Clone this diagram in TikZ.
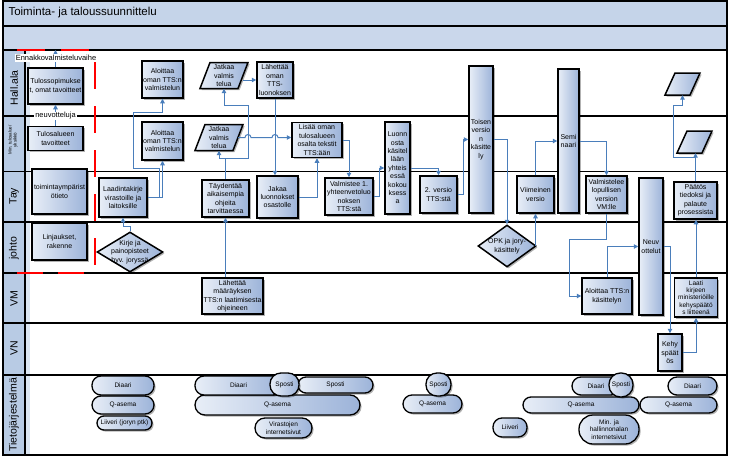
\documentclass[tikz,border=0pt]{standalone}
\usepackage{fontspec}
\setmainfont{Liberation Sans}
\usetikzlibrary{shapes.geometric,shadows,arrows.meta,calc}
\definecolor{hdr}{HTML}{C5D4E9}
\definecolor{lanec}{HTML}{B8CBE4}
\definecolor{stripc}{HTML}{DCE6F2}
\definecolor{bxl}{HTML}{E8EEF7}
\definecolor{bxr}{HTML}{9CB3D9}
\definecolor{arr}{HTML}{4A7EBB}
\definecolor{dred}{HTML}{FF0000}
\begin{document}
\begin{tikzpicture}[x=1pt,y=-1pt,
  bxshade/.style={left color=bxl, right color=bxr},
  shd/.style={drop shadow={shadow xshift=1.6pt, shadow yshift=-1.6pt, opacity=0.3, fill=black}},
  box/.style={rectangle, draw=black, line width=1.5pt, bxshade, shd, align=center, inner sep=0.5pt, font=\fontsize{7}{8.4}\selectfont},
  dia/.style={diamond, draw=black, line width=1.5pt, bxshade, shd, inner sep=0pt},
  pshape/.style={draw=black, line width=1.5pt, bxshade, shd, line join=miter},
  anch/.style={rectangle, inner sep=0pt, align=center, font=\fontsize{7}{8.4}\selectfont},
  pill/.style={rectangle, draw=black, line width=1.3pt, bxshade, shd, rounded corners=#1, align=center, inner sep=0pt, font=\fontsize{6.5}{7.4}\selectfont},
  pill/.default=8pt,
  conn/.style={draw=arr, line width=1pt, -{Triangle[length=4.5pt,width=4.5pt]}},
  lane/.style={draw=black, line width=1.4pt},
  lanelbl/.style={rotate=90, font=\fontsize{10.5}{12}\selectfont},
  reddash/.style={draw=dred, line width=2pt, dash pattern=on 27pt off 17pt},
  note/.style={fill=white, inner sep=0.8pt, font=\fontsize{7.5}{9}\selectfont}
]
\useasboundingbox (0,0) rectangle (729,461);

% ---------- frame and lanes ----------
\fill[hdr] (3,1) rectangle (727,26);
\fill[hdr!92!white] (3,26) rectangle (727,50);
\fill[lanec] (3,50) rectangle (25,455);
\fill[stripc] (25,50) rectangle (30,455);
\draw[lane] (3,26) -- (727,26);
\foreach \yy in {50,116,171.5,222,273,323,375} \draw[lane] (3,\yy) -- (727,\yy);
\draw[lane] (25,50) -- (25,455);
\draw[line width=1.4pt] (3,1) rectangle (727,455);

\node[anchor=west, font=\fontsize{11.5}{13}\selectfont] (title) at (5,13) {Toiminta- ja taloussuunnittelu};

\node[lanelbl] (lHall) at (14,88) {Hall.ala};
\node[rotate=90, align=center, font=\fontsize{4.5}{5}\selectfont] (lMin) at (13,140) {Min. tulosalue/\\yksikkö};
\node[lanelbl] (lTay) at (14,196) {Tay};
\node[lanelbl] (lJohto) at (14,248) {johto};
\node[lanelbl] (lVM) at (14,299) {VM};
\node[lanelbl] (lVN) at (14,348) {VN};
\node[lanelbl] (lTieto) at (14,415) {Tietojärjestelmä};

% ---------- red dashed phase border ----------
\draw[reddash, dash pattern=on 28pt off 16pt] (17,49.5) -- (95,49.5);
\draw[reddash, dash pattern=on 26pt off 15pt] (17,273) -- (95,273);
\draw[reddash] (95,62) -- (95,267);

% ---------- Hall.ala ----------
\node[box, minimum width=55pt, minimum height=36pt] (ts) at (55.5,86) {Tulossopimukse\\t, omat tavoitteet};
\node[box, minimum width=41pt, minimum height=37pt] (al1) at (162.5,79.5) {Aloittaa\\oman TTS:n\\valmistelun};
\node[anch, minimum width=38pt, minimum height=26pt] (jv1) at (224,75.5) {};
\path[pshape] (200,88.5) -- (238,88.5) -- (248,62.5) -- (210,62.5) -- cycle;
\node[anch] (jv1T) at (jv1) {Jatkaa\\valmis\\telua};
\node[box, minimum width=36pt, minimum height=36pt] (lo) at (275,80) {Lähettää\\oman\\TTS-\\luonoksen};
\node[box, minimum width=24pt, minimum height=147pt] (tv) at (481,139.5) {Toisen\\versio\\n\\käsitte\\ly};
\node[box, minimum width=21pt, minimum height=144pt] (sem) at (568.5,141) {Semi\\naari};
\node[anch, minimum width=25pt, minimum height=22pt] (p1) at (682.5,84) {};
\path[pshape] (665,95) -- (690,95) -- (700,73) -- (675,73) -- cycle;

% ---------- Min. tulosalue ----------
\node[box, minimum width=55pt, minimum height=24pt] (tt) at (55.5,138.5) {Tulosalueen\\tavoitteet};
\node[box, minimum width=41pt, minimum height=38pt] (al2) at (162.5,141) {Aloittaa\\oman TTS:n\\valmistelun};
\node[anch, minimum width=38pt, minimum height=26pt] (jv2) at (219,137.5) {};
\path[pshape] (195,150.5) -- (233,150.5) -- (243,124.5) -- (205,124.5) -- cycle;
\node[anch] (jv2T) at (jv2) {Jatkaa\\valmis\\telua};
\node[box, minimum width=50pt, minimum height=35pt] (li) at (317,140) {Lisää oman\\tulosalueen\\osalta tekstit\\TTS:ään};
\node[box, minimum width=25pt, minimum height=92pt] (lu) at (397.5,168) {Luonn\\osta\\käsitel\\lään\\yhteis\\essä\\kokou\\ksess\\a};
\node[anch, minimum width=25pt, minimum height=22pt] (p2) at (694.5,142) {};
\path[pshape] (677,153) -- (702,153) -- (712,131) -- (687,131) -- cycle;

% ---------- Tay ----------
\node[box, minimum width=55pt, minimum height=45pt] (ty) at (59.5,191.5) {toimintaympärist\\ötieto};
\node[box, minimum width=48pt, minimum height=39pt] (lk) at (123,197.5) {Laadintakirje\\virastoille ja\\laitoksille};
\node[box, minimum width=47pt, minimum height=37pt] (td) at (225.5,198.5) {Täydentää\\aikaisempia\\ohjeita\\tarvittaessa};
\node[box, minimum width=41pt, minimum height=42pt] (ja) at (277.5,197) {Jakaa\\luonnokset\\osastolle};
\node[box, minimum width=48pt, minimum height=37pt] (va) at (349,196.5) {Valmistee 1.\\yhteenvetoluo\\noksen\\TTS:stä};
\node[box, minimum width=37pt, minimum height=37pt] (v2) at (438.5,194.5) {2. versio\\TTS:stä};
\node[box, minimum width=37pt, minimum height=37pt] (vi) at (535.5,194.5) {Viimeinen\\versio};
\node[box, minimum width=41pt, minimum height=37pt] (vl) at (606.5,194.5) {Valmistelee\\lopullisen\\version\\VM:lle};
\node[box, minimum width=24pt, minimum height=137pt] (ne) at (651,246.5) {Neuv\\ottelut};
\node[box, minimum width=43pt, minimum height=37pt] (pt) at (695.5,200.5) {Päätös\\tiedoksi ja\\palaute\\prosessista};

% ---------- johto ----------
\node[box, minimum width=55pt, minimum height=37pt] (lr) at (59.5,241.5) {Linjaukset,\\rakenne};
\node[dia, minimum width=66pt, minimum height=40pt] (kd) at (130,252) {};
\node[anch] (kdT) at (kd) {Kirje ja\\painopisteet\\hyv. joryssä};
\node[dia, minimum width=58pt, minimum height=42pt] (od) at (507,246) {};
\node[anch] (odT) at (od) {OPK ja jory-\\käsittely};

% ---------- VM ----------
\node[box, minimum width=61pt, minimum height=36pt] (lm) at (232.5,296) {Lähettää\\määräyksen\\TTS:n laatimisesta\\ohjeineen};
\node[box, minimum width=50pt, minimum height=36pt] (atk) at (607,296) {Aloittaa TTS:n\\käsittelyn};
\node[box, minimum width=43pt, minimum height=39pt, font=\fontsize{6.5}{7.3}\selectfont] (lt) at (696,297.5) {Laati\\kirjeen\\ministeriöille\\kehyspäätö\\s liitteenä};

% ---------- VN ----------
\node[box, minimum width=24pt, minimum height=37pt] (kp) at (670,352.5) {Kehy\\späät\\ös};

% ---------- Tietojärjestelmä ----------
\node[pill=9pt, minimum width=62pt, minimum height=18pt] (q1) at (123,405) {Q-asema};
\node[pill=9pt, minimum width=62pt, minimum height=19pt] (d1) at (123,385.5) {Diaari};
\node[pill=7pt, minimum width=55pt, minimum height=14pt] (l1) at (124.5,423) {Liiveri (joryn ptk)};

\node[pill=10pt, minimum width=165pt, minimum height=20pt] (q2) at (277.5,405) {Q-asema};
\node[pill=9pt, minimum width=87pt, minimum height=19pt] (d2) at (238.5,385.5) {Diaari};
\node[pill=8pt, minimum width=75pt, minimum height=16pt] (s3) at (335.5,385) {Sposti};
\node[pill=11pt, minimum width=29pt, minimum height=23pt] (s2) at (284.5,384.5) {Sposti};
\node[pill=10pt, minimum width=57pt, minimum height=20pt] (vs) at (283.5,428) {Virastojen\\internetsivut};

\node[pill=9pt, minimum width=59pt, minimum height=18pt] (q3) at (432.5,404) {Q-asema};
\node[pill=11pt, minimum width=25pt, minimum height=23pt] (s4) at (438.5,384.5) {Sposti};
\node[pill=9pt, minimum width=34pt, minimum height=19pt] (l2) at (510,427.5) {Liiveri};

\node[pill=8pt, minimum width=116pt, minimum height=16pt] (q4) at (581,405) {Q-asema};
\node[pill=9pt, minimum width=48pt, minimum height=18pt] (d4) at (596,386) {Diaari};
\node[pill=11.5pt, minimum width=24pt, minimum height=24pt] (s5) at (621,385) {Sposti};
\node[pill=14pt, minimum width=60pt, minimum height=29pt] (mi) at (609,429.5) {Min. ja\\hallinnonalan\\internetsivut};

\node[pill=8pt, minimum width=77pt, minimum height=16pt] (q5) at (678.5,405) {Q-asema};
\node[pill=9pt, minimum width=49pt, minimum height=18pt] (d5) at (692.5,386) {Diaari};

% ---------- connectors ----------
\coordinate (hallTop) at (56,50);
\draw[conn] (ts.north) -- (ts.north |- hallTop);
\node[note] (ennak) at (56,58) {Ennakkovalmisteluvaihe};
\draw[conn] (tt.north) -- (ts.south);
\node[note] (neuv) at (55.5,116) {neuvotteluja};

\draw[conn] (kd.north) -- ++(0,-5) -| (lk.south);
\coordinate (jA) at (lk.east -| al2.south);
\draw[conn] (lk.east) -- (jA) -- (al2.south);
\draw[conn] ($(jA)+(-3,0)$) -- ++(0,-29.5) -- ++(-26.5,0) |- ($(al1.south)+(0,14)$) -- (al1.south);

\coordinate (jT) at ($(td.north)+(0,-20.5)$);
\draw[conn] (td.north) -- (jT) -| (jv2.south);
\draw[conn] (jT) -- ++(22.5,0) |- ($(jv1.south)+(0,16.5)$) -- (jv1.south);
\draw[conn] (lm.north -| td.south) -- (td.south);

\draw[conn] (lo.west -| jv1.east) -- (lo.west);
\draw[conn] (jv2.east) -- (245,137.5) arc[start angle=180,end angle=0,radius=3pt] -- (272,137.5) arc[start angle=180,end angle=0,radius=3pt] -- (li.west |- jv2.east);
\draw[conn] (lo.south) -- (lo.south |- ja.north);
\draw[conn] (ja.east) -| (li.south);
\draw[conn] (li.east) -| (va.north);
\draw[conn] (va.east) -- ++(6,0) |- (lu.west);
\draw[conn] (lu.east) -| (v2.north);
\draw[conn] (v2.east) -- ++(6,0) |- (tv.west);
\draw[conn] (tv.east) -| (od.north);
\draw[conn] (vi.south |- od.east) -- (vi.south);
\draw[conn] (vi.north) |- (sem.west);
\draw[conn] (sem.east) -| (vl.north);
\draw[conn] (vl.south) -- ++(0,26) -| ($(atk.west)+(-12,0)$) -- (atk.west);
\draw[conn] (atk.north) |- (ne.west);
\draw[conn] (ne.east) -| (kp.north);
\draw[conn] (kp.east) -| (lt.south);
\draw[conn] (lt.north) -- (lt.north |- pt.south);
\draw[conn] (pt.north) -- (pt.north |- p2.south);
\coordinate (jP) at ($(pt.north)+(0,-24)$);
\draw[conn] (jP) -- ++(-22,0) |- ($(p1.south)+(0,10)$) -- (p1.south);
\end{tikzpicture}
\end{document}
